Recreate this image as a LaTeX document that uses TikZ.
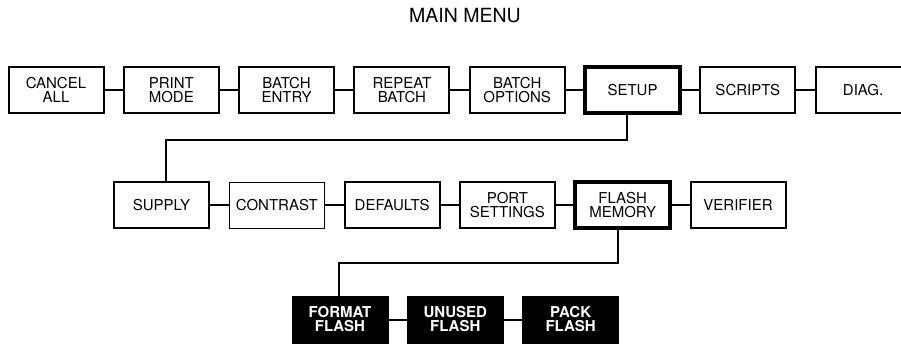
\documentclass[tikz,border=0pt]{standalone}
\usepackage{fontspec}
\setmainfont{TeX Gyre Heros}
\usetikzlibrary{positioning}

\begin{document}
\begin{tikzpicture}[x=1pt, y=1pt,
    item/.style={
      draw, line width=2pt, minimum width=95pt, minimum height=46pt,
      inner sep=0pt, outer sep=0pt, align=center,
      font=\fontsize{15}{14}\selectfont
    },
    current/.style={item, line width=4.5pt},
    lightitem/.style={item, line width=1pt},
    action/.style={
      item, fill=black, text=white,
      font=\fontsize{15}{14}\selectfont\bfseries
    },
    link/.style={line width=2pt},
    node distance=20.3pt
  ]
  \useasboundingbox (0,0) rectangle (901,343);
  \node[font=\fontsize{19.5}{21}\selectfont] (title) at (465,327.5) {MAIN MENU};

  % main menu row
  \node[item] (cancel) at (56,253) {CANCEL\\ALL};
  \node[item, right=of cancel] (printmode) {PRINT\\MODE};
  \node[item, right=of printmode] (entry) {BATCH\\ENTRY};
  \node[item, right=of entry] (repeat) {REPEAT\\BATCH};
  \node[item, right=of repeat] (options) {BATCH\\OPTIONS};
  \node[current, right=of options] (setup) {SETUP};
  \node[item, right=of setup] (scripts) {SCRIPTS};
  \node[item, right=of scripts] (diag) {DIAG.};

  % setup row
  \node[item] (supply) at (161.5,138) {SUPPLY};
  \node[lightitem, right=of supply] (contrast) {CONTRAST};
  \node[item, right=of contrast] (defaults) {DEFAULTS};
  \node[item, right=of defaults] (port) {PORT\\SETTINGS};
  \node[current, right=of port] (flash) {FLASH\\MEMORY};
  \node[item, right=of flash] (verifier) {VERIFIER};

  % flash memory row
  \node[action] (format) at (340,23.5) {FORMAT\\FLASH};
  \node[action, right=of format] (unused) {UNUSED\\FLASH};
  \node[action, right=of unused] (pack) {PACK\\FLASH};

  \foreach \a/\b in {cancel/printmode, printmode/entry, entry/repeat,
      repeat/options, options/setup, setup/scripts, scripts/diag,
      supply/contrast, contrast/defaults, defaults/port, port/flash,
      flash/verifier, format/unused, unused/pack}
    \draw[link] (\a) -- (\b);

  \draw[link] ([xshift=-5.5pt]setup.south) -- ++(0,-27.5) -| ([xshift=4.5pt]supply.north);
  \draw[link] ([xshift=-4.7pt]flash.south) -- ++(0,-34.5) -| ([xshift=-1pt]format.north);
\end{tikzpicture}
\end{document}
